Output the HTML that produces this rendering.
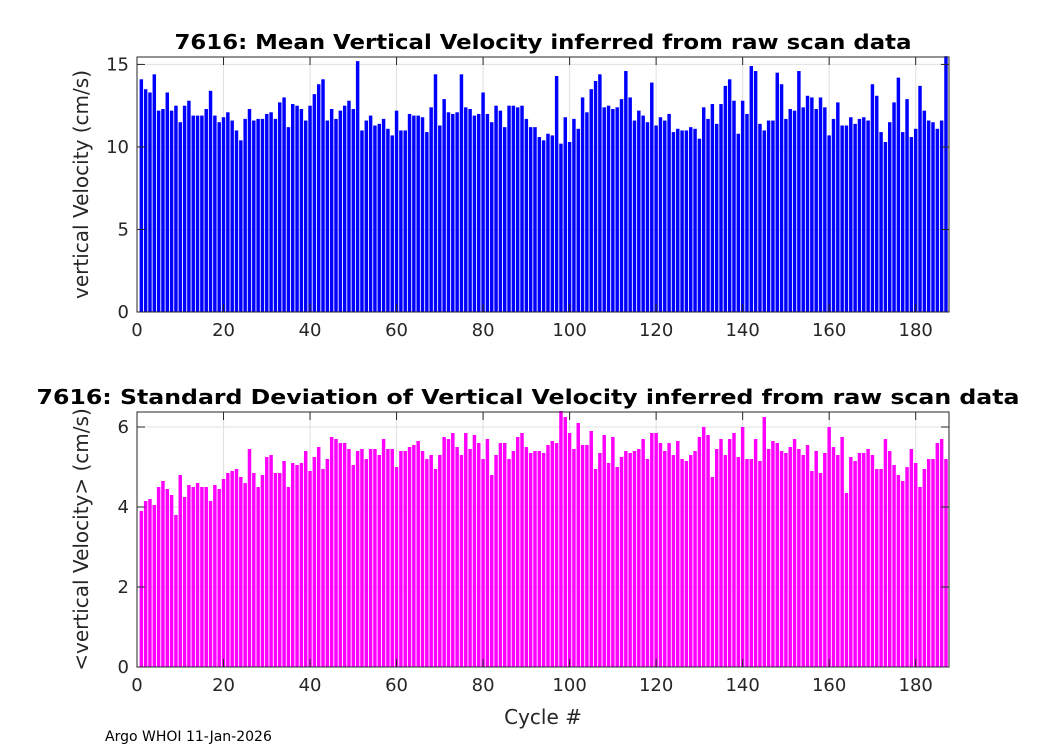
<!DOCTYPE html>
<html><head><meta charset="utf-8"><style>
body{margin:0;background:#fff;}
svg{display:block;font-family:"DejaVu Sans","Liberation Sans",sans-serif;}
</style></head><body>
<svg id="c" width="1050" height="750" viewBox="0 0 1050 750"></svg>
<script>
const cycles=[];for(let i=1;i<=187;i++)cycles.push(i);
const meanVel=[14.1,13.5,13.3,14.4,12.2,12.3,13.3,12.2,12.5,11.5,12.5,12.8,11.9,11.9,11.9,12.3,13.4,11.9,11.5,11.8,12.1,11.6,11.0,10.4,11.7,12.3,11.6,11.7,11.7,12.0,12.1,11.7,12.7,13.0,11.2,12.6,12.5,12.3,11.6,12.5,13.2,13.8,14.1,11.6,12.3,11.7,12.2,12.5,12.8,12.3,15.2,11.0,11.6,11.9,11.3,11.4,11.7,11.1,10.7,12.2,11.0,11.0,12.0,11.9,11.9,11.8,10.9,12.4,14.4,11.3,12.9,12.1,12.0,12.1,14.4,12.4,12.3,11.9,12.0,13.3,12.0,11.5,12.5,12.2,11.2,12.5,12.5,12.4,12.5,11.7,11.2,11.2,10.6,10.4,10.8,10.7,14.3,10.2,11.8,10.3,11.7,11.1,13.0,12.1,13.5,14.0,14.4,12.4,12.5,12.3,12.4,12.9,14.6,13.0,11.6,12.2,11.9,11.5,13.9,11.3,11.8,11.6,12.0,10.9,11.1,11.0,11.0,11.2,11.1,10.5,12.4,11.7,12.6,11.4,12.6,13.7,14.1,12.8,10.8,12.8,12.0,14.9,14.6,11.4,11.0,11.6,11.6,14.5,13.8,11.7,12.3,12.2,14.6,12.4,13.1,13.0,12.3,13.0,12.4,10.7,11.7,12.7,11.3,11.3,11.8,11.4,11.7,11.8,11.6,13.8,13.1,10.9,10.3,11.5,12.7,14.2,10.9,12.9,10.6,11.1,13.7,12.2,11.6,11.5,11.1,11.6,15.5];
const stdVel=[3.9,4.15,4.2,4.05,4.5,4.65,4.45,4.3,3.8,4.8,4.25,4.55,4.5,4.6,4.5,4.5,4.15,4.55,4.45,4.7,4.85,4.9,4.95,4.75,4.6,5.45,4.85,4.5,4.8,5.25,5.3,4.85,4.85,5.15,4.5,5.1,5.05,5.1,5.4,4.9,5.25,5.5,4.95,5.2,5.75,5.7,5.6,5.6,5.45,5.05,5.4,5.45,5.2,5.45,5.45,5.3,5.7,5.45,5.45,5.0,5.4,5.4,5.5,5.55,5.65,5.4,5.2,5.3,4.95,5.3,5.75,5.7,5.85,5.5,5.3,5.85,5.45,5.8,5.6,5.2,5.7,4.8,5.3,5.6,5.6,5.2,5.4,5.75,5.85,5.5,5.35,5.4,5.4,5.35,5.55,5.65,5.6,6.4,6.25,5.85,5.45,6.1,5.55,5.55,5.9,4.95,5.35,5.8,5.1,5.75,5.0,5.25,5.4,5.35,5.4,5.45,5.7,5.2,5.85,5.85,5.6,5.4,5.6,5.3,5.65,5.2,5.15,5.3,5.4,5.75,6.0,5.8,4.75,5.45,5.7,5.3,5.7,5.85,5.25,6.0,5.2,5.2,5.7,5.15,6.25,5.45,5.65,5.6,5.4,5.35,5.5,5.7,5.45,5.3,5.55,4.9,5.4,4.85,5.35,6.0,5.5,5.3,5.75,4.35,5.25,5.15,5.35,5.35,5.45,5.3,4.95,4.95,5.7,5.4,5.05,4.8,4.65,5.0,5.45,5.1,4.5,4.95,5.2,5.2,5.6,5.7,5.2];
const xTicks=[0,20,40,60,80,100,120,140,160,180];
const topYTicks=[0,5,10,15];
const botYTicks=[0,2,4,6];

const NS="http://www.w3.org/2000/svg";
const svg=document.getElementById('c');
function mk(tag,attrs,parent){const e=document.createElementNS(NS,tag);for(const k in attrs)e.setAttribute(k,attrs[k]);(parent||svg).appendChild(e);return e;}
const L=137,R=949,XMAX=187.7;
const xs=v=>L+v/XMAX*(R-L);

function panel(name,top,bottom,ymax,vals,ticks,color,title,titleX,titleLen,ylabel,showXLabel){
  const g=mk('g',{});
  
  
  const ys=v=>bottom-v/ymax*(bottom-top);
  xTicks.forEach(t=>{const l=mk('line',{x1:xs(t),x2:xs(t),y1:top,y2:bottom,stroke:'#e0e0e0','stroke-width':1},g);});
  ticks.forEach(t=>{const l=mk('line',{x1:L,x2:R,y1:ys(t),y2:ys(t),stroke:'#e0e0e0','stroke-width':1},g);});
  const bw=0.8/XMAX*(R-L);
  vals.forEach((v,i)=>{const b=mk('rect',{x:xs(cycles[i])-bw/2,y:ys(v),width:bw,height:bottom-ys(v),fill:color},g);
    
    });
  const bx=mk('rect',{x:L,y:top,width:R-L,height:bottom-top,fill:'none',stroke:'#262626','stroke-width':1},g);
  
  xTicks.forEach(t=>{
    mk('line',{x1:xs(t),x2:xs(t),y1:bottom,y2:bottom-8,stroke:'#262626'},g);
    mk('line',{x1:xs(t),x2:xs(t),y1:top,y2:top+8,stroke:'#262626'},g);
    const tx=mk('text',{x:xs(t),y:bottom+24,'text-anchor':'middle','font-size':18,fill:'#262626'},g);
    tx.textContent=t;
  });
  ticks.forEach(t=>{
    mk('line',{x1:L,x2:L+8,y1:ys(t),y2:ys(t),stroke:'#262626'},g);
    mk('line',{x1:R,x2:R-8,y1:ys(t),y2:ys(t),stroke:'#262626'},g);
    const tx=mk('text',{x:L-8,y:ys(t)+6,'text-anchor':'end','font-size':18,fill:'#262626'},g);
    tx.textContent=t;
  });
  const ti=mk('text',{x:titleX,y:top-8,'text-anchor':'middle','font-size':20,'font-weight':'bold',fill:'#000',textLength:titleLen,lengthAdjust:'spacingAndGlyphs'},g);
  ti.textContent=title;
  const cy=(top+bottom)/2;
  const yl=mk('text',{x:0,y:0,transform:`translate(88,${cy}) rotate(-90)`,'text-anchor':'middle','font-size':20,fill:'#262626'},g);
  yl.textContent=ylabel;
  if(showXLabel){const xl=mk('text',{x:543,y:bottom+57,'text-anchor':'middle','font-size':20,fill:'#262626'},g);
    xl.textContent='Cycle #';}
}
panel('mean-velocity-panel',57,312,15.45,meanVel,topYTicks,'#0000ff','7616: Mean Vertical Velocity inferred from raw scan data',543,737,'vertical Velocity (cm/s)',false);
panel('std-velocity-panel',412,667,6.375,stdVel,botYTicks,'#ff00ff','7616: Standard Deviation of Vertical Velocity inferred from raw scan data',528,983,'<vertical Velocity> (cm/s)',true);
const ft=mk('text',{x:105,y:741,'font-size':14,fill:'#000'});
ft.textContent='Argo WHOI 11-Jan-2026';


</script>
</body></html>
